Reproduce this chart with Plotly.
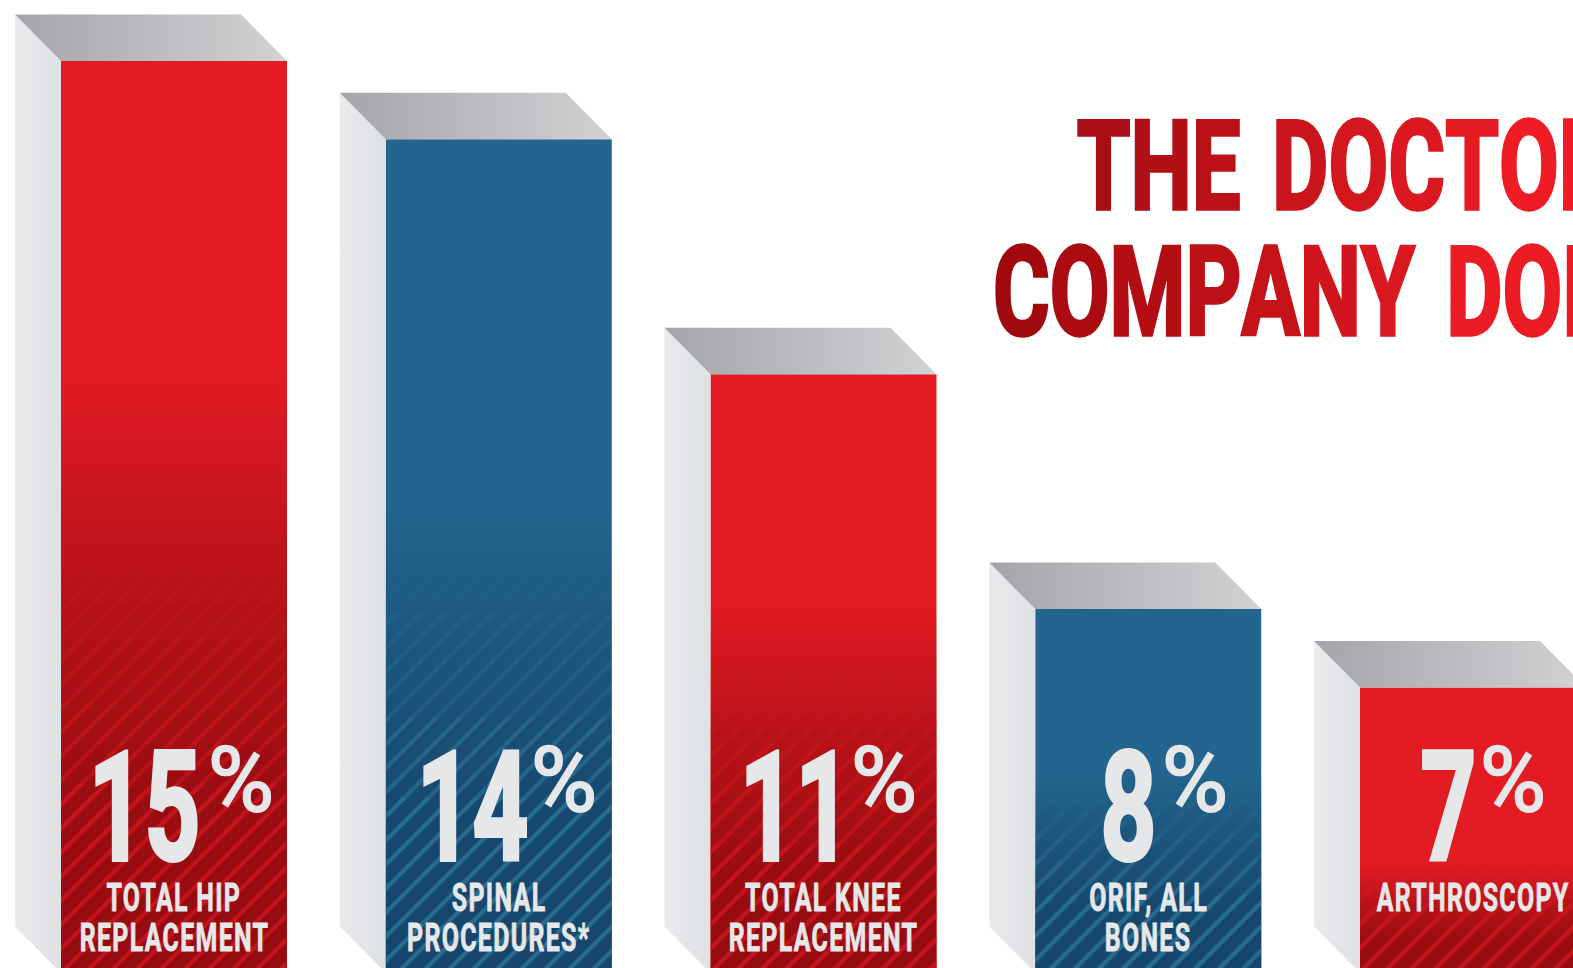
import json
import plotly.graph_objects as go

# Share of claims by procedure, in percent
CATEGORIES = ["Total hip replacement", "Spinal procedures*", "Total knee replacement",
              "ORIF, all bones", "Arthroscopy"]
VALUES = [15, 14, 11, 8, 7]
LABEL_LINES = [["TOTAL HIP", "REPLACEMENT"], ["SPINAL", "PROCEDURES*"],
               ["TOTAL KNEE", "REPLACEMENT"], ["ORIF, ALL", "BONES"], ["ARTHROSCOPY"]]
TITLE_LINES = ["THE DOCTORS", "COMPANY DOES"]

# Fill colours per bar
PALETTE = {
    "red": {"face": "#e31b23", "dark": "150,12,16", "stripe": "238,28,36"},
    "blue": {"face": "#23658e", "dark": "22,70,108", "stripe": "56,144,176"},
}
BAR_HUES = ["red", "blue", "red", "blue", "red"]
FADE_TOP = [0.66, 0.56, 0.62, 0.55, 0.38]
STRIPE_TOP = [0.46, 0.47, 0.48, 0.48, 0.38]
STRIPE_BANDS = [(0.0, 0.45, 1.0), (0.45, 0.65, 0.7), (0.65, 0.8, 0.42), (0.8, 0.92, 0.22), (0.92, 1.0, 0.1)]

W, H = 1573, 968
BAR_STEP = 324.75
PX_PER_PCT = 78.3
FIRST_CENTER = 174.0
TOP_OF_15 = 61.0
BAR_WIDTH = 226 / BAR_STEP
DEPTH_X = 46 / BAR_STEP
DEPTH_Y = 46.5 / PX_PER_PCT
Y_MAX = 15 + TOP_OF_15 / PX_PER_PCT
Y_MIN = Y_MAX - H / PX_PER_PCT
BASE = 15 - (973 - TOP_OF_15) / PX_PER_PCT
X_MIN = -FIRST_CENTER / BAR_STEP
X_MAX = (W - FIRST_CENTER) / BAR_STEP

positions = list(range(len(VALUES)))
fig = go.Figure()


def polygon(xs, ys, gradient, axes=("x", "y")):
    fig.add_trace(go.Scatter(
        x=xs + xs[:1], y=ys + ys[:1], mode="none", fill="toself", fillgradient=gradient,
        fillcolor="rgba(0,0,0,0)", hoverinfo="skip", showlegend=False,
        xaxis=axes[0], yaxis=axes[1]))


# Front faces
fig.add_trace(go.Bar(
    x=positions, y=[v - BASE for v in VALUES], base=BASE, width=BAR_WIDTH,
    marker=dict(color=[PALETTE[h]["face"] for h in BAR_HUES], line_width=0),
    hovertext=CATEGORIES, hoverinfo="text+y", showlegend=False))

for pos, value, hue, fade in zip(positions, VALUES, BAR_HUES, FADE_TOP):
    left, right = pos - BAR_WIDTH / 2, pos + BAR_WIDTH / 2
    # Left side of the block
    polygon([left - DEPTH_X, left, left, left - DEPTH_X],
            [value + DEPTH_Y, value, BASE, BASE + DEPTH_Y],
            dict(type="horizontal", colorscale=[[0, "#e9eaec"], [1, "#dee1e4"]]))
    # Top of the block
    polygon([left - DEPTH_X, right - DEPTH_X, right, left],
            [value + DEPTH_Y, value + DEPTH_Y, value, value],
            dict(type="horizontal", colorscale=[[0, "#a3a5a8"], [1, "#d0d2d4"]]))
    # Darkening towards the foot of the front face
    dark = PALETTE[hue]["dark"]
    fade_y = BASE + fade * (value - BASE)
    polygon([left, right, right, left], [BASE, BASE, fade_y, fade_y],
            dict(type="vertical", colorscale=[[0, f"rgba({dark},1)"], [0.3, f"rgba({dark},0.95)"],
                                              [0.65, f"rgba({dark},0.55)"], [1, f"rgba({dark},0)"]]))

# Diagonal hatching, fading as it climbs each bar
for low, high, alpha in STRIPE_BANDS:
    bases, heights, colors = [], [], []
    for value, hue, top in zip(VALUES, BAR_HUES, STRIPE_TOP):
        span = top * (value - BASE)
        bases.append(BASE + low * span)
        heights.append((high - low) * span)
        colors.append(f"rgba({PALETTE[hue]['stripe']},{alpha})")
    fig.add_trace(go.Bar(
        x=positions, y=heights, base=bases, width=BAR_WIDTH, xaxis="x2", yaxis="y2",
        marker=dict(color="rgba(0,0,0,0)", line_width=0,
                    pattern=dict(shape="/", size=17, solidity=0.25, fgcolor=colors,
                                 bgcolor="rgba(0,0,0,0)", fillmode="overlay")),
        hoverinfo="skip", showlegend=False))

TEXT_GREY = "#e6e7e8"
DIGIT_SIZE, PCT_SIZE, LABEL_SIZE, TITLE_SIZE = 152, 90, 38, 124
# Horizontal squeeze applied to each text size to reach a condensed look
SQUEEZE = {DIGIT_SIZE: 0.64, PCT_SIZE: 1.0, LABEL_SIZE: 0.656, TITLE_SIZE: 0.7}
HEAVY_STROKE = {DIGIT_SIZE: 4, PCT_SIZE: 2, LABEL_SIZE: 0.8, TITLE_SIZE: 3.5}
TRACKING = {LABEL_SIZE: "2px"}
WORD_GAP = {TITLE_SIZE: "14px"}
DIGIT_SHIFT = [27, 30, 28, 9, 4]
PCT_SHIFT = [33, 31, 26, 13, 6]


def text_at(text, x, baseline, size, family="Roboto", weight="bold",
            xanchor="center", xshift=0, color=TEXT_GREY, xref="x"):
    fig.add_annotation(
        text=text, x=x, xref=xref, y=1 - (baseline + 0.28 * size) / H, yref="paper",
        xanchor=xanchor, yanchor="bottom", xshift=xshift, showarrow=False,
        borderpad=0, font=dict(family=family, size=size, weight=weight, color=color))


for pos, value, lines, d_shift, p_shift in zip(positions, VALUES, LABEL_LINES, DIGIT_SHIFT, PCT_SHIFT):
    text_at(str(value), pos, 855, DIGIT_SIZE, xanchor="right", xshift=d_shift)
    text_at("%", pos, 809, PCT_SIZE, weight="normal", xanchor="left", xshift=p_shift)
    for line, baseline in zip(lines, (910, 950)):
        text_at(line, pos, baseline, LABEL_SIZE)


def ramp(text, start, end, reach):
    # Colours a headline letter by letter, from a dark to a bright red
    parts = []
    for i, ch in enumerate(text):
        t = min(i / reach, 1)
        rgb = [round(a + (b - a) * t) for a, b in zip(start, end)]
        parts.append(f"<span style='color:rgb({rgb[0]},{rgb[1]},{rgb[2]})'>{ch}</span>")
    return "".join(parts)


text_at(ramp(TITLE_LINES[0], (168, 14, 20), (238, 28, 36), 8), 1084 / W, 205, TITLE_SIZE,
        xanchor="left", xref="paper")
text_at(ramp(TITLE_LINES[1], (160, 10, 15), (236, 28, 36), 8), 1003 / W, 331, TITLE_SIZE,
        xanchor="left", xref="paper")

hidden = dict(visible=False, fixedrange=True)
fig.update_layout(
    width=W, height=H, margin=dict(l=0, r=0, t=0, b=0), autosize=False,
    paper_bgcolor="white", plot_bgcolor="white", barmode="overlay", showlegend=False,
    xaxis=dict(range=[X_MIN, X_MAX], **hidden),
    yaxis=dict(range=[Y_MIN, Y_MAX], **hidden),
    xaxis2=dict(range=[X_MIN, X_MAX], overlaying="x", **hidden),
    yaxis2=dict(range=[Y_MIN, Y_MAX], overlaying="y", **hidden),
)

# Condense the annotation text, which has no font-stretch setting of its own
POST = """
var squeeze = %s, heavy = %s, tracking = %s, wordGap = %s;
var gd = document.getElementById('{plot_id}');
function condense() {
  gd.querySelectorAll('.annotation').forEach(function (a) {
    var i = +a.getAttribute('data-index');
    var ann = gd.layout.annotations[i];
    var size = ann.font.size;
    var t = a.querySelector('text');
    t.removeAttribute('transform');
    if (tracking[size]) { t.style.letterSpacing = tracking[size]; }
    if (wordGap[size]) { t.style.wordSpacing = wordGap[size]; }
    var b = t.getBBox();
    var s = squeeze[size];
    var cx = ann.xanchor === 'left' ? b.x : (ann.xanchor === 'right' ? b.x + b.width : b.x + b.width / 2);
    t.setAttribute('transform', 'translate(' + cx + ' 0) scale(' + s + ' 1) translate(' + (-cx) + ' 0)');
    t.style.strokeWidth = heavy[size] + 'px';
    t.style.stroke = ann.font.color;
    t.querySelectorAll('tspan').forEach(function (span) {
      if (span.style.fill) { span.style.stroke = span.style.fill; }
    });
  });
}
condense();
""" % (json.dumps(SQUEEZE), json.dumps(HEAVY_STROKE), json.dumps(TRACKING), json.dumps(WORD_GAP))

fig.write_html("out.html", post_script=POST, config={"displayModeBar": False})
